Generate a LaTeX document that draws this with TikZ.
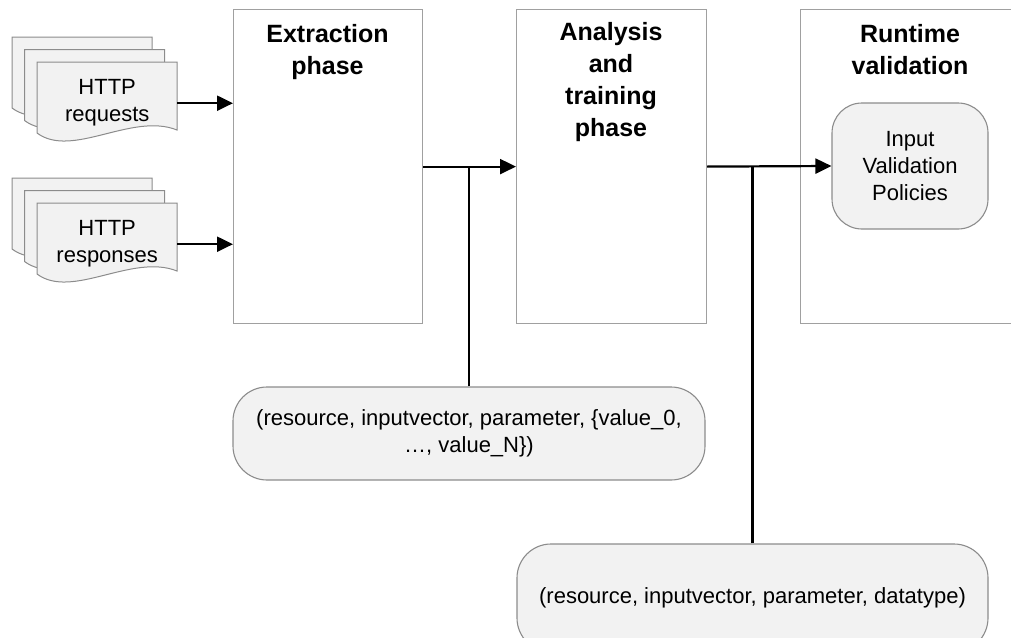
\documentclass[tikz,border=0pt]{standalone}
\usepackage{fontspec}
\setmainfont{Liberation Sans}
\usetikzlibrary{arrows.meta}
\definecolor{boxline}{HTML}{A0A0A0}
\definecolor{softfill}{HTML}{F2F2F2}
\definecolor{softline}{HTML}{8C8C8C}
\tikzset{
  phasebox/.style={draw=boxline, line width=1.2pt, minimum height=314pt, anchor=north west, inner sep=0pt},
  phasetitle/.style={font=\fontsize{25}{32}\selectfont\bfseries, align=center, anchor=north, inner sep=0pt},
  roundbox/.style={draw=softline, fill=softfill, line width=1.1pt, rounded corners=34pt, align=center,
    font=\fontsize{22}{27}\selectfont, inner sep=0pt},
  docarea/.style={minimum width=140pt, minimum height=82pt, anchor=north west, inner sep=0pt,
    align=center, font=\fontsize{22}{27}\selectfont},
  docpage/.style={draw=softline, fill=softfill, line width=1pt},
  flow/.style={line width=2.2pt, -{Triangle[length=16pt,width=15pt]}},
  tee/.style={line width=2.2pt}
}
\newcommand{\docpath}[2]{%
  \path[docpage] (#1,#2) -- (#1+140,#2) -- (#1+140,#2+68)
    .. controls (#1+95,#2+50) and (#1+35,#2+97) .. (#1,#2+71) -- cycle;}
\begin{document}
\begin{tikzpicture}[x=1pt,y=-1pt]
\useasboundingbox (0,0) rectangle (1011,637);
\clip (0,0) rectangle (1011,637);

% document stacks
\docpath{12}{37}
\docpath{24.5}{49.5}
\docpath{37}{62}
\node[docarea] (req) at (37,62) {HTTP\\requests};
\docpath{12}{178}
\docpath{24.5}{190.5}
\docpath{37}{203}
\node[docarea] (resp) at (37,203) {HTTP\\responses};

% phase boxes
\node[phasebox, minimum width=189pt] (ext) at (233,9) {};
\node[phasebox, minimum width=190pt] (ana) at (516,9) {};
\node[phasebox, minimum width=240pt] (run) at (800,9) {};
\node[phasetitle] (extt) at (327.5,24) {Extraction\\phase};
\node[phasetitle] (anat) at (611,22) {Analysis\\and\\training\\phase};
\node[phasetitle] (runt) at (910,24) {Runtime\\validation};

% policies
\node[roundbox, minimum width=156pt, minimum height=126pt, rounded corners=30pt] (ivp) at (910,166)
  {Input\\Validation\\Policies};

% tuple boxes
\node[roundbox, minimum width=472pt, minimum height=93pt] (tup1) at (469,433.5)
  {(resource, inputvector, parameter, \{value\_0,\\…, value\_N\})};
\node[roundbox, minimum width=471pt, minimum height=108pt] (tup2) at (752.5,598)
  {(resource, inputvector, parameter, datatype)};

% connectors
\draw[flow] (req.east) -- (ext.west |- req.east);
\draw[flow] (resp.east) -- (ext.west |- resp.east);
\draw[flow] (ext.east) -- (ana.west);
\draw[flow] (ana.east) -- (ivp.west);
\draw[tee] (tup1.north) -- (tup1.north |- ext.east);
\draw[tee] (tup2.north) -- (tup2.north |- ana.east);
\end{tikzpicture}
\end{document}
